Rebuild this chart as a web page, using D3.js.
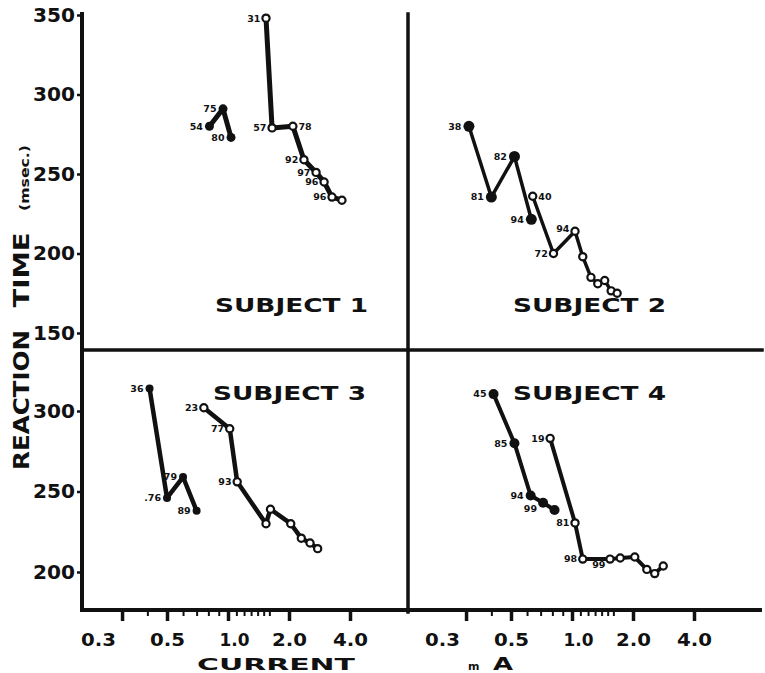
<!DOCTYPE html>
<html><head><meta charset="utf-8">
<script src="https://cdn.jsdelivr.net/npm/d3@7"></script>
<style>
body{margin:0;background:#fff;}
svg{display:block;font-family:"DejaVu Sans",sans-serif;}
</style>
</head><body>
<svg id="chart" width="765" height="673"></svg>
<script>
// ---------------- DATA ----------------
const subjectNames = ["SUBJECT 1", "SUBJECT 2", "SUBJECT 3", "SUBJECT 4"];
const yTicksTop = [150, 200, 250, 300, 350];
const yTicksBottom = [200, 250, 300];
const xTicksMajor = [0.3, 0.5, 1.0, 2.0, 4.0];
const xTickLabels = ["0.3", "0.5", "1.0", "2.0", "4.0"];
const xTicksMinor = [0.4, 0.6, 0.7, 0.8, 0.9, 1.1, 1.2, 1.3, 1.4, 1.5, 1.6];
const yTitleWords = ["REACTION", "TIME", "(msec.)"];
const xTitleLeft = "CURRENT";
const xTitleUnitM = "m";
const xTitleUnitA = "A";

// Subject 1
const s1FilledCurrent = [0.81, 0.945, 1.035];
const s1FilledRT      = [280, 291, 273];
const s1FilledLabels  = ["54", "75", "80"];
const s1OpenCurrent = [1.54, 1.65, 2.09, 2.37, 2.72, 2.98, 3.26, 3.65];
const s1OpenRT      = [348, 279, 280, 259, 251, 245, 235.5, 233.5];
const s1OpenLabels  = ["31", "57", "78", "92", "97", "96", "96", ""];

// Subject 2
const s2FilledCurrent = [0.31, 0.40, 0.52, 0.63];
const s2FilledRT      = [280, 235.5, 261, 221.5];
const s2FilledLabels  = ["38", "81", "82", "94"];
const s2OpenCurrent = [0.64, 0.81, 1.035, 1.13, 1.24, 1.34, 1.45, 1.56, 1.67];
const s2OpenRT      = [236, 200, 214, 198, 185, 181, 183, 176.5, 175];
const s2OpenLabels  = ["40", "72", "94", "", "", "", "", "", ""];

// Subject 3
const s3FilledCurrent = [0.41, 0.50, 0.60, 0.70];
const s3FilledRT      = [314, 246, 259, 238];
const s3FilledLabels  = ["36", ".76", "79", "89"];
const s3OpenCurrent = [0.76, 1.02, 1.11, 1.54, 1.62, 2.04, 2.30, 2.54, 2.77];
const s3OpenRT      = [302, 289, 256, 230, 239, 230, 221, 218, 214.5];
const s3OpenLabels  = ["23", "77", "93", "", "", "", "", "", ""];

// Subject 4
const s4FilledCurrent = [0.41, 0.52, 0.625, 0.72, 0.82];
const s4FilledRT      = [310.5, 280, 247.5, 243, 238.5];
const s4FilledLabels  = ["45", "85", "94", "99", ""];
const s4OpenCurrent = [0.78, 1.035, 1.13, 1.54, 1.73, 2.04, 2.34, 2.56, 2.82];
const s4OpenRT      = [283, 230.5, 208, 208, 208.7, 209.3, 201.6, 199, 203.7];
const s4OpenLabels  = ["19", "81", "98", "99", "", "", "", "", ""];

// ---------------- LAYOUT / STYLE ----------------
const INK = "#111";
const L = {axisX: 82, divX: 408, rightX: 762, topY: 14, divY: 350, botY: 610};
const labelSide = {
  s1o: ["l", "l", "r", "l", "l", "l", "l", ""],
  s2o: ["r", "l", "al", "", "", "", "", "", ""],
  s4f: ["l", "l", "l", "bl", ""],
  s4o: ["l", "l", "l", "bl", "", "", "", "", ""]
};
const lineWidths = [5, 3.5, 4.5, 4];
const filledR = [4.5, 5.5, 4, 5];

const svg = d3.select("#chart");
svg.append("rect").attr("width", 765).attr("height", 673).attr("fill", "#fff");

const xScales = [
  d3.scaleLog().domain([1, 4]).range([228, 350]),
  d3.scaleLog().domain([1, 4]).range([572, 694])
];
const yScales = [
  d3.scaleLinear().domain([150, 350]).range([333, 15]),
  d3.scaleLinear().domain([200, 300]).range([572, 411])
];

function zipSeries(xs, ys, labs) {
  return xs.map((x, i) => ({x: x, y: ys[i], t: labs[i]}));
}

const panels = [
  {name: subjectNames[0], row: 0, col: 0, label: [215, 312],
   series: [
     {pts: zipSeries(s1FilledCurrent, s1FilledRT, s1FilledLabels), filled: true, side: null},
     {pts: zipSeries(s1OpenCurrent, s1OpenRT, s1OpenLabels), filled: false, side: labelSide.s1o}]},
  {name: subjectNames[1], row: 0, col: 1, label: [513, 312],
   series: [
     {pts: zipSeries(s2FilledCurrent, s2FilledRT, s2FilledLabels), filled: true, side: null},
     {pts: zipSeries(s2OpenCurrent, s2OpenRT, s2OpenLabels), filled: false, side: labelSide.s2o}]},
  {name: subjectNames[2], row: 1, col: 0, label: [213, 400],
   series: [
     {pts: zipSeries(s3FilledCurrent, s3FilledRT, s3FilledLabels), filled: true, side: null},
     {pts: zipSeries(s3OpenCurrent, s3OpenRT, s3OpenLabels), filled: false, side: null}]},
  {name: subjectNames[3], row: 1, col: 1, label: [513, 400],
   series: [
     {pts: zipSeries(s4FilledCurrent, s4FilledRT, s4FilledLabels), filled: true, side: labelSide.s4f},
     {pts: zipSeries(s4OpenCurrent, s4OpenRT, s4OpenLabels), filled: false, side: labelSide.s4o}]}
];

// ---- frame lines ----
const frame = svg.append("g").attr("stroke", INK).attr("stroke-linecap", "square");
frame.append("line").attr("x1", L.axisX).attr("y1", L.topY).attr("x2", L.axisX).attr("y2", L.botY).attr("stroke-width", 4);
frame.append("line").attr("x1", L.divX).attr("y1", L.topY).attr("x2", L.divX).attr("y2", L.botY + 2).attr("stroke-width", 3.5);
frame.append("line").attr("x1", L.axisX).attr("y1", L.divY).attr("x2", L.rightX).attr("y2", L.divY).attr("stroke-width", 3.5);
frame.append("line").attr("x1", L.axisX).attr("y1", L.botY).attr("x2", L.rightX - 2).attr("y2", L.botY).attr("stroke-width", 4);

// ---- y axes ----
function yAxis(scale, ticks) {
  const g = svg.append("g").attr("transform", `translate(${L.axisX},0)`)
    .call(d3.axisLeft(scale).tickValues(ticks).tickSize(5).tickPadding(2).tickFormat(d3.format("d")));
  g.select(".domain").remove();
  g.selectAll(".tick line").attr("stroke", INK).attr("stroke-width", 2.5);
  g.selectAll(".tick text").attr("fill", INK).attr("font-size", 19).attr("font-weight", "bold")
    .attr("font-family", "DejaVu Sans").attr("textLength", 42).attr("lengthAdjust", "spacingAndGlyphs");
}
yAxis(yScales[0], yTicksTop);
yAxis(yScales[1], yTicksBottom);

// ---- x axes ----
const labelDx = {"0.3": -24, "1.0": 6};
xScales.forEach(xs => {
  const gm = svg.append("g").attr("transform", `translate(0,${L.botY})`)
    .call(d3.axisBottom(xs).tickValues(xTicksMinor).tickSize(6).tickFormat(""));
  gm.select(".domain").remove();
  gm.selectAll(".tick line").attr("stroke", INK).attr("stroke-width", 2);

  const g = svg.append("g").attr("transform", `translate(0,${L.botY})`)
    .call(d3.axisBottom(xs).tickValues(xTicksMajor).tickSize(11)
      .tickFormat((d, i) => xTickLabels[i]));
  g.select(".domain").remove();
  g.selectAll(".tick line").attr("stroke", INK).attr("stroke-width", 3.5);
  g.selectAll(".tick text").attr("fill", INK).attr("font-size", 17).attr("font-weight", "bold")
    .attr("font-family", "DejaVu Sans")
    .attr("y", 36).attr("dy", 0)
    .attr("dx", function () { return labelDx[this.textContent] || 0; })
    .attr("textLength", function () { return this.textContent === "1.0" ? 30 : 35; })
    .attr("lengthAdjust", "spacingAndGlyphs");
});

// ---- data marks ----
panels.forEach((p, pi) => {
  const xs = xScales[p.col], ys = yScales[p.row];
  const g = svg.append("g");
  const line = d3.line().x(d => xs(d.x)).y(d => ys(d.y));
  p.series.forEach(s => {
    g.append("path").datum(s.pts).attr("d", line).attr("fill", "none")
      .attr("stroke", INK).attr("stroke-width", lineWidths[pi])
      .attr("stroke-linejoin", "round").attr("stroke-linecap", "round");
  });
  p.series.forEach(s => {
    const r = s.filled ? filledR[pi] : 3.6;
    g.selectAll(null).data(s.pts).enter().append("circle")
      .attr("cx", d => xs(d.x)).attr("cy", d => ys(d.y)).attr("r", r)
      .attr("fill", s.filled ? INK : "#fff")
      .attr("stroke", INK).attr("stroke-width", s.filled ? 0 : 2.2);
    g.selectAll(null).data(s.pts.filter(d => d.t !== "")).enter().append("text")
      .text(d => d.t)
      .attr("font-size", 9.5).attr("font-weight", "bold").attr("fill", INK)
      .each(function (d) {
        const i = s.pts.indexOf(d);
        const side = s.side ? s.side[i] : "l";
        const cx = xs(d.x), cy = ys(d.y);
        const el = d3.select(this);
        if (side === "r") {
          el.attr("x", cx + r + 2).attr("y", cy).attr("dy", "0.35em").attr("text-anchor", "start");
        } else if (side === "bl") {
          el.attr("x", cx - r - 1).attr("y", cy + 6).attr("dy", "0.35em").attr("text-anchor", "end");
        } else if (side === "al") {
          el.attr("x", cx - r - 2).attr("y", cy - 3).attr("dy", "0.35em").attr("text-anchor", "end");
        } else {
          el.attr("x", cx - r - 2).attr("y", cy).attr("dy", "0.35em").attr("text-anchor", "end");
        }
      });
  });
  svg.append("text").text(p.name)
    .attr("x", p.label[0]).attr("y", p.label[1])
    .attr("font-size", 20).attr("font-weight", "bold").attr("fill", INK)
    .attr("textLength", 153).attr("lengthAdjust", "spacingAndGlyphs");
});

// ---- axis titles ----
const yTitle = [
  {t: yTitleWords[0], cy: 400, len: 140, fs: 22},
  {t: yTitleWords[1], cy: 270, len: 75, fs: 22},
  {t: yTitleWords[2], cy: 178, len: 66, fs: 12}
];
yTitle.forEach(o => {
  svg.append("text").text(o.t)
    .attr("transform", `translate(29,${o.cy}) rotate(-90)`)
    .attr("text-anchor", "middle").attr("font-size", o.fs).attr("font-weight", "bold").attr("fill", INK)
    .attr("textLength", o.len).attr("lengthAdjust", "spacingAndGlyphs");
});
svg.append("text").text(xTitleLeft).attr("x", 197).attr("y", 670)
  .attr("font-size", 16).attr("font-weight", "bold").attr("fill", INK)
  .attr("textLength", 158).attr("lengthAdjust", "spacingAndGlyphs");
svg.append("text").text(xTitleUnitM).attr("x", 468).attr("y", 670)
  .attr("font-size", 11).attr("font-weight", "bold").attr("fill", INK);
svg.append("text").text(xTitleUnitA).attr("x", 493).attr("y", 670)
  .attr("font-size", 18).attr("font-weight", "bold").attr("fill", INK)
  .attr("textLength", 20).attr("lengthAdjust", "spacingAndGlyphs");
</script>
</body></html>
